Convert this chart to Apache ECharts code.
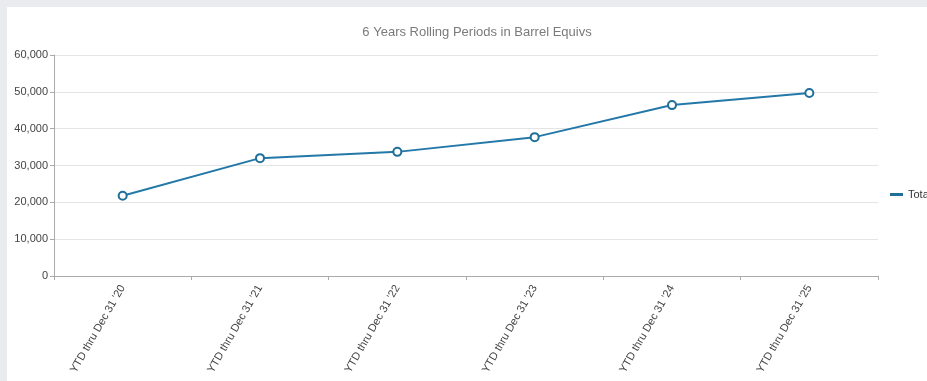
<!DOCTYPE html>
<html>
<head>
<meta charset="utf-8">
<script src="https://cdn.jsdelivr.net/npm/echarts@6/dist/echarts.min.js"></script>
<style>
html,body{margin:0;padding:0;width:927px;height:381px;overflow:hidden;background:#e9ebee;}
#chart{position:absolute;left:7px;top:7px;width:940px;height:400px;background:#ffffff;}
</style>
</head>
<body>
<div id="chart"></div>
<script>
var categories = ["YTD thru Dec 31 '20","YTD thru Dec 31 '21","YTD thru Dec 31 '22","YTD thru Dec 31 '23","YTD thru Dec 31 '24","YTD thru Dec 31 '25"];
var totalValues = [21800, 32000, 33700, 37700, 46400, 49700];
var seriesName = "Total";
var titleText = "6 Years Rolling Periods in Barrel Equivs";

var chart = echarts.init(document.getElementById('chart'), null, {renderer:'canvas'});
chart.setOption({
  animation:false,
  backgroundColor:'#ffffff',
  title:{
    text:titleText, left:'center', top:14,
    textStyle:{fontFamily:'Liberation Sans, Arial, sans-serif', fontSize:13, fontWeight:'normal', color:'#7a7a7a'}
  },
  legend:{
    left:878, top:177, orient:'vertical',
    data:[{name:seriesName, icon:'rect', itemStyle:{color:'#1f6f9a', borderWidth:0}}],
    itemWidth:13, itemHeight:3, itemGap:5,
    textStyle:{fontFamily:'Liberation Sans, Arial, sans-serif', fontSize:11, color:'#333'}
  },
  grid:{left:47, top:48, right:69, bottom:131, containLabel:false},
  xAxis:{
    type:'category', data:categories, boundaryGap:true,
    axisLine:{lineStyle:{color:'#aaaaaa'}},
    axisTick:{show:true, alignWithLabel:false, length:4, lineStyle:{color:'#aaaaaa'}},
    axisLabel:{rotate:60, margin:10, fontFamily:'Liberation Sans, Arial, sans-serif', fontSize:11, color:'#444'}
  },
  yAxis:{
    type:'value', min:0, max:60000, interval:10000,
    axisLine:{show:true, lineStyle:{color:'#aaaaaa'}},
    axisTick:{show:true, length:4, lineStyle:{color:'#aaaaaa'}},
    axisLabel:{margin:6, fontFamily:'Liberation Sans, Arial, sans-serif', fontSize:11, color:'#444',
      formatter:function(v){return v.toLocaleString('en-US');}},
    splitLine:{lineStyle:{color:'#e4e4e4'}}
  },
  series:[{
    name:seriesName, type:'line', data:totalValues,
    symbol:'circle', symbolSize:8,
    itemStyle:{color:'#ffffff', borderColor:'#1f6f9a', borderWidth:2},
    lineStyle:{color:'#2378a8', width:2}
  }]
});
</script>
</body>
</html>
